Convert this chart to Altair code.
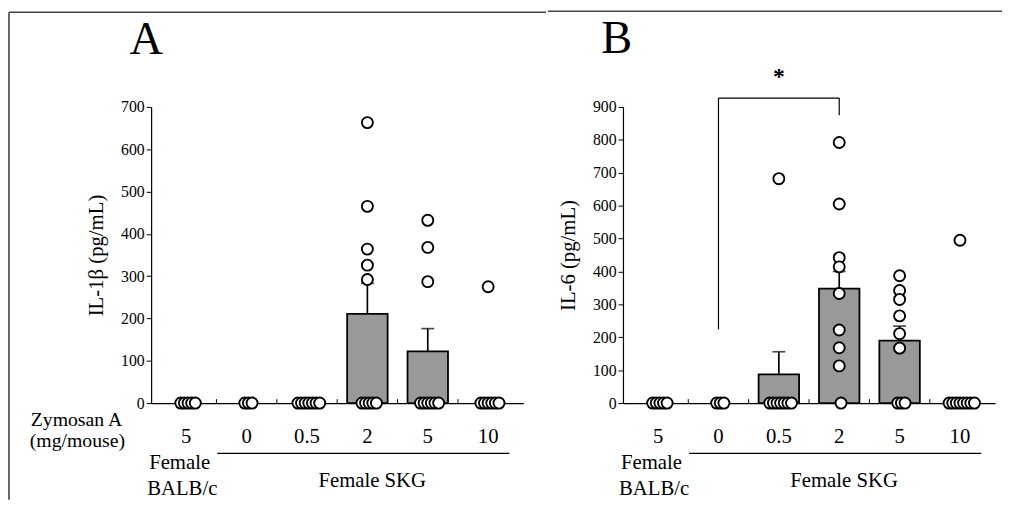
import altair as alt
import pandas as pd

# ---------------- data ----------------
categories = ["5", "0", "0.5", "2", "5", "10"]

a_means = [0, 0, 0, 211, 122, 0]
a_err_top = [0, 0, 0, 283, 176, 0]
a_points = [[], [], [], [663, 465, 364, 326, 292], [432, 368, 287], [275]]
a_zero_counts = [5, 3, 7, 5, 6, 6]

b_means = [0, 0, 87, 348, 190, 0]
b_err_top = [0, 0, 156, 400, 234, 0]
b_points = [[], [], [682], [792, 605, 442, 414, 333, 222, 168, 113], [387, 342, 315, 265, 211, 167], [495]]
b_zero_counts = [5, 3, 7, 1, 3, 8]

# significance bracket in panel B: from group "0" to group "2"
b_bracket_groups = [1, 3]
b_bracket_levels = [224, 927, 875]   # left foot, top, right foot

SERIF = "Liberation Serif"
W, H = 377, 300


def build_tables(means, err_top, points, zero_counts):
    bars = pd.DataFrame({
        "pos": [i + 0.5 for i in range(len(categories))],
        "mean": means,
        "err": err_top,
    })
    rows = []
    spacing = 0.06
    for i, (vals, nz) in enumerate(zip(points, zero_counts)):
        for v in vals:
            rows.append({"pos": i + 0.5, "val": v})
        for k in range(nz):
            off = (k - (nz - 1) / 2) * spacing + 0.03
            rows.append({"pos": i + 0.5 + off, "val": 0})
    pts = pd.DataFrame(rows)
    return bars, pts


def text_mark(text, x, y, size, align="left", baseline="alphabetic", weight="normal"):
    return alt.Chart(alt.Data(values=[{}])).mark_text(
        text=text, x=x, y=y, font=SERIF, fontSize=size, align=align,
        baseline=baseline, fontWeight=weight, color="black"
    )


def panel(letter, letter_y, means, err_top, points, zero_counts, ymax, ytitle,
          frame_left, frame_top, frame_right, left_labels, bracket=False):
    bars, pts = build_tables(means, err_top, points, zero_counts)
    xscale = alt.Scale(domain=[0, 6], nice=False, zero=False)
    yscale = alt.Scale(domain=[0, ymax], nice=False)
    xaxis = alt.Axis(title=None, labels=False, ticks=False, grid=False,
                     domainColor="black", domainWidth=1.2)
    yaxis = alt.Axis(title=ytitle, values=list(range(0, ymax + 1, 100)),
                     grid=False, domainColor="black", domainWidth=1.2,
                     tickColor="black", tickSize=5, labelFont=SERIF,
                     labelFontSize=16, labelColor="black", labelPadding=2,
                     labelOverlap=False,
                     titleFont=SERIF, titleFontSize=21, titleFontWeight="normal",
                     titleColor="black", titlePadding=14)

    def X(field):
        return alt.X(field, scale=xscale, axis=xaxis)

    def Y(field):
        return alt.Y(field, scale=yscale, axis=yaxis)

    base_bar = alt.Chart(bars)
    bar_layer = base_bar.transform_filter("datum.mean > 0").mark_bar(
        color="#999999", stroke="black", strokeWidth=1.8, width=41
    ).encode(x=X("pos:Q"), y=Y("mean:Q"))
    err_rule = base_bar.transform_filter("datum.err > datum.mean").mark_rule(
        color="black", strokeWidth=1.7
    ).encode(x=X("pos:Q"), y=Y("mean:Q"), y2="err:Q")
    err_cap = base_bar.transform_filter("datum.err > datum.mean").mark_tick(
        orient="horizontal", size=13, thickness=1.7, color="black"
    ).encode(x=X("pos:Q"), y=Y("err:Q"))

    point_layer = alt.Chart(pts).mark_circle(
        color="white", stroke="black", strokeWidth=1.9, size=125, opacity=1
    ).encode(x=X("pos:Q"), y=Y("val:Q"))

    bounds = pd.DataFrame({"b": [1, 2, 3, 4, 5]})
    tick_layer = alt.Chart(bounds).mark_rule(color="black", strokeWidth=1).encode(
        x=X("b:Q"), y=alt.value(H), y2=alt.value(H - 4)
    )

    cat_df = pd.DataFrame({"pos": [i + 0.5 for i in range(len(categories))],
                           "label": categories})
    cat_layer = alt.Chart(cat_df).mark_text(
        font=SERIF, fontSize=21, baseline="alphabetic", color="black"
    ).encode(x=X("pos:Q"), y=alt.value(340), text="label:N")

    group_line = alt.Chart(alt.Data(values=[{}])).mark_rule(
        color="black", strokeWidth=1.2
    ).encode(x=alt.value(67), x2=alt.value(363), y=alt.value(351))

    layers = [bar_layer, err_rule, err_cap, tick_layer, point_layer, cat_layer, group_line,
              text_mark(letter, -22, letter_y, 47, baseline="top"),
              text_mark("Female", -2, 367, 21),
              text_mark("BALB/c", -4, 393, 21),
              text_mark("Female SKG", 224, 385, 21, align="center"),
              alt.Chart(alt.Data(values=[{}])).mark_rule(color="#444444", strokeWidth=1.6).encode(
                  x=alt.value(frame_left), x2=alt.value(frame_right), y=alt.value(frame_top))]
    if left_labels:
        layers += [
            alt.Chart(alt.Data(values=[{}])).mark_rule(color="#444444", strokeWidth=1.6).encode(
                x=alt.value(frame_left), y=alt.value(frame_top), y2=alt.value(398)),
            text_mark("Zymosan A", -122, 323, 20),
            text_mark("(mg/mouse)", -123, 344, 20),
        ]
    if bracket:
        g0, g1 = b_bracket_groups
        lo, top, lo2 = b_bracket_levels
        br = pd.DataFrame({
            "x": [g0 + 0.5, g0 + 0.5, g1 + 0.5],
            "x2": [g0 + 0.5, g1 + 0.5, g1 + 0.5],
            "y": [lo, top, top],
            "y2": [top, top, lo2],
        })
        layers.append(alt.Chart(br).mark_rule(color="black", strokeWidth=1.2).encode(
            x=X("x:Q"), x2="x2:Q", y=Y("y:Q"), y2="y2:Q"))
        star = pd.DataFrame({"x": [(g0 + g1) / 2 + 0.5], "s": ["*"]})
        layers.append(alt.Chart(star).mark_text(
            font=SERIF, fontSize=24, fontWeight="bold", baseline="middle", color="black", dy=-1
        ).encode(x=X("x:Q"), y=alt.value(-29), text="s:N"))
    return alt.layer(*layers).properties(width=W, height=H)


pa = panel("A", -91, a_means, a_err_top, a_points, a_zero_counts, 700, "IL-1β (pg/mL)",
           frame_left=-144, frame_top=-96, frame_right=400, left_labels=True)
pb = panel("B", -92, b_means, b_err_top, b_points, b_zero_counts, 900, "IL-6 (pg/mL)",
           frame_left=-76, frame_top=-97, frame_right=384, left_labels=False, bracket=True)

chart = alt.hconcat(pa, pb, spacing=0).properties(
    padding={"top": -1, "left": 0, "right": 0, "bottom": 0}
).configure_view(stroke=None)

chart.save("out.html", embed_options={"renderer": "svg", "actions": False})
